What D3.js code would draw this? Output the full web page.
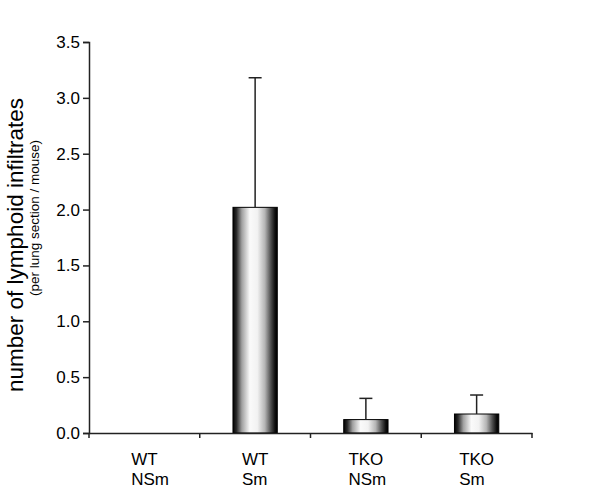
<!DOCTYPE html>
<html>
<head>
<meta charset="utf-8">
<script src="https://cdnjs.cloudflare.com/ajax/libs/d3/7.8.5/d3.min.js"></script>
<style>
  body { margin: 0; background: #fff; }
  text { font-family: Arial, "Liberation Sans", sans-serif; fill: #000; }
</style>
</head>
<body>
<div id="chart"></div>
<script>
var groups = ["WT", "WT", "TKO", "TKO"];
var treatments = ["NSm", "Sm", "NSm", "Sm"];
var means = [0, 2.02, 0.12, 0.17];
var errs = [0, 1.16, 0.19, 0.17];
var yTicks = [0, 0.5, 1.0, 1.5, 2.0, 2.5, 3.0, 3.5];

var width = 600, height = 491;
var svg = d3.select("#chart").append("svg")
    .attr("width", width)
    .attr("height", height);

var defs = svg.append("defs");
var grad = defs.append("linearGradient")
    .attr("id", "cyl")
    .attr("x1", "0%").attr("x2", "100%")
    .attr("y1", "0%").attr("y2", "0%");
[[0, "#000"], [0.08, "#2a2a2a"], [0.2, "#a0a0a0"], [0.38, "#fafafa"], [0.55, "#f2f2f2"],
 [0.72, "#b5b5b5"], [0.86, "#4a4a4a"], [0.95, "#0d0d0d"], [1, "#000"]].forEach(function(s) {
  grad.append("stop").attr("offset", s[0]).attr("stop-color", s[1]);
});

var x = d3.scaleBand()
    .domain(d3.range(means.length))
    .range([89, 532])
    .padding(0);

var y = d3.scaleLinear()
    .domain([0, 3.5])
    .range([433, 42]);

var barW = x.bandwidth() * 0.4;

// bars (zero bars are not drawn)
means.forEach(function(m, i) {
  if (m <= 0) return;
  svg.append("rect")
    .attr("class", "bar")
    .attr("x", x(i) + x.bandwidth() / 2 - barW / 2)
    .attr("y", y(m))
    .attr("width", barW)
    .attr("height", y(0) - y(m))
    .attr("fill", "url(#cyl)")
    .attr("stroke", "#000")
    .attr("stroke-width", 1);
});

// error bars
var eb = svg.append("g");
means.forEach(function(m, i) {
  if (errs[i] <= 0) return;
  var cx = x(i) + x.bandwidth() / 2;
  eb.append("line")
    .attr("x1", cx).attr("x2", cx)
    .attr("y1", y(m)).attr("y2", y(m + errs[i]))
    .attr("stroke", "#222").attr("stroke-width", 1.5);
  eb.append("line")
    .attr("x1", cx - 6.5).attr("x2", cx + 6.5)
    .attr("y1", y(m + errs[i])).attr("y2", y(m + errs[i]))
    .attr("stroke", "#222").attr("stroke-width", 1.5);
});

// y axis
var yAxis = d3.axisLeft(y)
    .tickValues(yTicks)
    .tickFormat(d3.format(".1f"))
    .tickSize(6)
    .tickPadding(3);
var gY = svg.append("g")
    .attr("transform", "translate(89,0)")
    .call(yAxis);
gY.select(".domain").attr("stroke", "#222").attr("stroke-width", 1.5);
gY.selectAll(".tick line").attr("stroke", "#222").attr("stroke-width", 1.5);
gY.selectAll(".tick text").style("font-size", "17px").attr("fill", "#000");

// x axis
var xAxis = d3.axisBottom(x).tickSize(0).tickFormat("");
var gX = svg.append("g")
    .attr("transform", "translate(0,433)")
    .call(xAxis);
gX.select(".domain").attr("stroke", "#222").attr("stroke-width", 1.5);
gX.selectAll(".xt")
  .data(d3.range(means.length + 1))
  .enter().append("line")
    .attr("class", "xt")
    .attr("x1", function(d) { return 89 + d * x.step(); })
    .attr("x2", function(d) { return 89 + d * x.step(); })
    .attr("y1", 0).attr("y2", 5)
    .attr("stroke", "#222").attr("stroke-width", 1.5);

// category labels: first line centred, second aligned to its left edge
var labs = svg.append("g");
groups.forEach(function(g, i) {
  var cx = x(i) + x.bandwidth() / 2;
  var t1 = labs.append("text")
    .attr("y", 465)
    .style("font-size", "17px")
    .text(g);
  var w = t1.node().getComputedTextLength();
  t1.attr("x", cx - w / 2);
  labs.append("text")
    .attr("x", cx - w / 2)
    .attr("y", 485)
    .style("font-size", "17px")
    .text(treatments[i]);
});

// y titles
svg.append("text")
    .attr("transform", "translate(23,245) rotate(-90)")
    .attr("text-anchor", "middle")
    .style("font-size", "22.5px")
    .text("number of lymphoid infiltrates");
svg.append("text")
    .attr("transform", "translate(38.5,218) rotate(-90)")
    .attr("text-anchor", "middle")
    .style("font-size", "13.5px")
    .text("(per lung section / mouse)");
</script>
</body>
</html>
